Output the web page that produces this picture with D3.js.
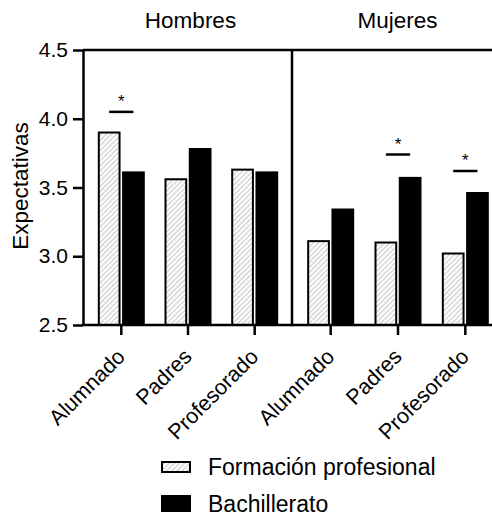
<!DOCTYPE html>
<html>
<head>
<meta charset="utf-8">
<script src="https://cdn.jsdelivr.net/npm/d3@7"></script>
<style>
  html, body { margin: 0; padding: 0; background: #fff; }
  svg { display: block; font-family: "Liberation Sans", Arial, sans-serif; }
</style>
</head>
<body>
<svg id="chart" width="492" height="515"></svg>
<script>
// Expectation scores by sex, informant and educational track
const sexes = ["Hombres", "Mujeres"];
const informants = ["Alumnado", "Padres", "Profesorado"];
const seriesNames = ["Formación profesional", "Bachillerato"];

const fpHombres   = [3.90, 3.56, 3.63];
const bachHombres = [3.61, 3.78, 3.61];
const fpMujeres   = [3.11, 3.10, 3.02];
const bachMujeres = [3.34, 3.57, 3.46];

const yTicks = [2.5, 3.0, 3.5, 4.0, 4.5];

// significant differences: bracket level per pair
const sigSex       = ["Hombres", "Mujeres", "Mujeres"];
const sigInformant = ["Alumnado", "Padres", "Profesorado"];
const sigLevel     = [4.05, 3.74, 3.62];

const svg = d3.select("#chart");

const values = {
  Hombres: [fpHombres, bachHombres],
  Mujeres: [fpMujeres, bachMujeres]
};

const plotTop = 50, plotBottom = 325, plotLeft = 83, plotMid = 292, plotRight = 503;
const y = d3.scaleLinear().domain([2.5, 4.5]).range([plotBottom, plotTop]);

const panelRange = { Hombres: [plotLeft, plotMid], Mujeres: [plotMid, plotRight] };
const xPanel = {};
sexes.forEach(s => {
  xPanel[s] = d3.scalePoint().domain(informants).range(panelRange[s]).padding(0.567);
});
const xSub = d3.scaleBand().domain(seriesNames).range([-23, 24]).paddingInner(0.064);

// hatch pattern for the vocational track
const defs = svg.append("defs");
const pat = defs.append("pattern")
  .attr("id", "hatch")
  .attr("patternUnits", "userSpaceOnUse")
  .attr("width", 3.6).attr("height", 3.6)
  .attr("patternTransform", "rotate(45)");
pat.append("rect").attr("width", 3.6).attr("height", 3.6).attr("fill", "#fff");
pat.append("line")
  .attr("x1", 0.9).attr("y1", 0).attr("x2", 0.9).attr("y2", 3.6)
  .attr("stroke", "#cdcdcd").attr("stroke-width", 1.3);

const fills = ["url(#hatch)", "#000"];

// bars
sexes.forEach(s => {
  informants.forEach((inf, i) => {
    seriesNames.forEach((ser, k) => {
      const v = values[s][k][i];
      const x0 = xPanel[s](inf) + xSub(ser);
      svg.append("rect")
        .attr("x", x0 + 1)
        .attr("y", y(v))
        .attr("width", xSub.bandwidth() - 2)
        .attr("height", y(2.5) - y(v))
        .attr("fill", fills[k])
        .attr("stroke", "#000")
        .attr("stroke-width", 2);
    });
  });
});

// frame: top border, panel divider
svg.append("line").attr("x1", plotLeft).attr("x2", plotRight).attr("y1", plotTop).attr("y2", plotTop)
  .attr("stroke", "#000").attr("stroke-width", 2.5);
svg.append("line").attr("x1", plotMid).attr("x2", plotMid).attr("y1", plotTop).attr("y2", plotBottom)
  .attr("stroke", "#000").attr("stroke-width", 2.5);

// y axis
const yAxis = d3.axisLeft(y).tickValues(yTicks).tickFormat(d3.format(".1f"))
  .tickSize(10).tickSizeOuter(0).tickPadding(5);
const gy = svg.append("g").attr("transform", `translate(${plotLeft},0)`).call(yAxis);
gy.select(".domain").attr("stroke-width", 2.5);
gy.selectAll(".tick line").attr("stroke-width", 2.5);
gy.selectAll("text").attr("font-size", 21).attr("fill", "#000")
  .attr("font-family", "Liberation Sans, Arial, sans-serif");

// x axes, one per panel
sexes.forEach(s => {
  const ax = d3.axisBottom(xPanel[s]).tickSize(10).tickSizeOuter(0);
  const gx = svg.append("g").attr("transform", `translate(0,${plotBottom})`).call(ax);
  gx.select(".domain").attr("stroke-width", 2.5)
    .attr("d", `M${panelRange[s][0] - 1.25},0H${panelRange[s][1] + 1.25}`);
  gx.selectAll(".tick line").attr("stroke-width", 2.5);
  gx.selectAll("text")
    .attr("font-size", 21.5).attr("fill", "#000")
    .attr("font-family", "Liberation Sans, Arial, sans-serif")
    .attr("text-anchor", "end")
    .attr("dy", null)
    .attr("y", 0)
    .attr("transform", "translate(5,33) rotate(-45)");
});

// panel headers
sexes.forEach(s => {
  const c = (xPanel[s](informants[0]) + xPanel[s](informants[2])) / 2;
  svg.append("text")
    .attr("x", s === "Hombres" ? c + 3 : c)
    .attr("y", 28)
    .attr("text-anchor", "middle")
    .attr("font-size", 22.5)
    .text(s);
});

// y axis title
svg.append("text")
  .attr("transform", "translate(28,186) rotate(-90)")
  .attr("text-anchor", "middle")
  .attr("font-size", 22.5)
  .text("Expectativas");

// significance brackets
sigSex.forEach((s, j) => {
  const c = xPanel[s](sigInformant[j]);
  const xa = c + xSub(seriesNames[0]) + xSub.bandwidth() / 2;
  const xb = c + xSub(seriesNames[1]) + xSub.bandwidth() / 2;
  const ly = y(sigLevel[j]);
  svg.append("line").attr("x1", xa).attr("x2", xb).attr("y1", ly).attr("y2", ly)
    .attr("stroke", "#000").attr("stroke-width", 2.5);
  svg.append("text")
    .attr("x", (xa + xb) / 2).attr("y", ly - 5)
    .attr("text-anchor", "middle")
    .attr("font-size", 17)
    .text("*");
});

// legend
const legend = svg.append("g");
const legendRows = [
  { y0: 462, h: 10 },
  { y0: 496, h: 15 }
];
seriesNames.forEach((ser, k) => {
  const r = legendRows[k];
  legend.append("rect")
    .attr("x", 162).attr("y", r.y0)
    .attr("width", 28).attr("height", r.h)
    .attr("fill", fills[k]).attr("stroke", "#000").attr("stroke-width", 2);
  legend.append("text")
    .attr("x", 208).attr("y", r.y0 + r.h / 2 + 8)
    .attr("font-size", 23)
    .text(ser);
});
</script>
</body>
</html>
